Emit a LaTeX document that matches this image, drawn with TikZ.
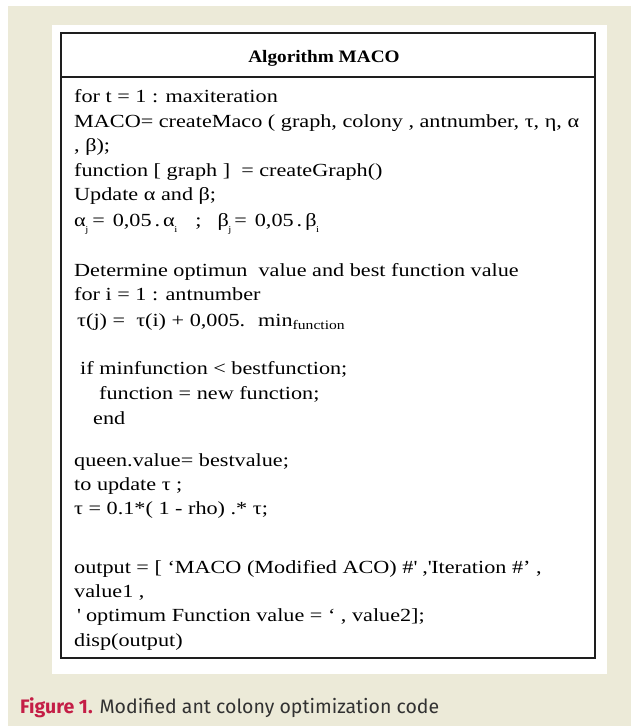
\documentclass[tikz,border=0pt]{standalone}
\usepackage{fontspec}
\setmainfont{Liberation Serif}[FakeStretch=1.2]
\newfontfamily\titlefont{Liberation Serif}[FakeStretch=1.1]
\newfontfamily\capfont{Fira Sans}
\definecolor{beige}{RGB}{236,234,216}
\definecolor{figred}{RGB}{196,30,70}
\definecolor{captxt}{RGB}{50,50,50}
\definecolor{boxline}{RGB}{30,30,30}
\newcommand{\sbl}[1]{\kern-0.5pt\raisebox{-6pt}{\fontsize{9}{9}\selectfont #1}}
\tikzset{
  ln/.style={anchor=base west, inner sep=0pt, font=\fontsize{18.5}{18.5}\selectfont},
  ttl/.style={anchor=base, inner sep=0pt, font=\titlefont\bfseries\fontsize{17.5}{17.5}\selectfont},
  captext/.style={anchor=base west, inner sep=0pt, text=captxt, font=\capfont\fontsize{19.5}{19.5}\selectfont},
  frame/.style={draw=boxline, line width=1.6pt}
}
\begin{document}
\begin{tikzpicture}[x=1pt,y=-1pt]
\useasboundingbox (0,0) rectangle (631,726);
\fill[white] (0,0) rectangle (631,726);
\fill[beige] (8,6) rectangle (631,726);
\fill[white] (52,25) rectangle (607,674);
\draw[frame] (61,33) rectangle (595,658);
\draw[frame] (61,77) -- (595,77);
\node[ttl] (title) at (324,62) {Algorithm MACO};
\node[ln] (l1) at (74,102.5) {for t = 1 : maxiteration};
\node[ln] (l2) at (74,127.5) {MACO= createMaco ( graph, colony , antnumber, τ, η, α};
\node[ln] (l3) at (74,151.5) {, β);};
\node[ln] (l4) at (74,176.5) {function [ graph ] \ = createGraph()};
\node[ln] (l5) at (74,200.5) {Update α and β;};
\node[ln] (l6) at (74,226) {α\sbl{j}\hspace{4pt}=\hspace{8pt}0,05\hspace{3pt}.\hspace{3pt}α\sbl{i}\hspace{18pt};\hspace{16pt}β\sbl{j}\hspace{3pt}=\hspace{8pt}0,05\hspace{3pt}.\hspace{3pt}β\sbl{i}};
\node[ln] (l7) at (74,276.5) {Determine optimun \ value and best function value};
\node[ln] (l8) at (74,300.5) {for i = 1 : antnumber};
\node[ln] (l9) at (77,326.5) {τ(j) = \ τ(i) + 0,005. \ min\raisebox{-3pt}{\fontsize{13}{13}\selectfont function}};
\node[ln] (l10) at (80,374) {if minfunction < bestfunction;};
\node[ln] (l11) at (99,399) {function = new function;};
\node[ln] (l12) at (93,424) {end};
\node[ln] (l13) at (74,466) {queen.value= bestvalue;};
\node[ln] (l14) at (74,490) {to update τ ;};
\node[ln] (l15) at (74,514) {τ = 0.1*( 1 - rho) .* τ;};
\node[ln] (l16) at (74,573) {output = [ ‘MACO (Modified ACO) \#\textquotesingle{} ,\textquotesingle Iteration \#’ ,};
\node[ln] (l17) at (74,597) {value1 ,};
\node[ln] (l18) at (77,621) {\textquotesingle{} optimum Function value = ‘ , value2];};
\node[ln] (l19) at (74,646) {disp(output)};
\node[captext] (caption) at (20,713) {\textcolor{figred}{\bfseries Figure 1.} Modified ant colony optimization code};
\end{tikzpicture}
\end{document}
